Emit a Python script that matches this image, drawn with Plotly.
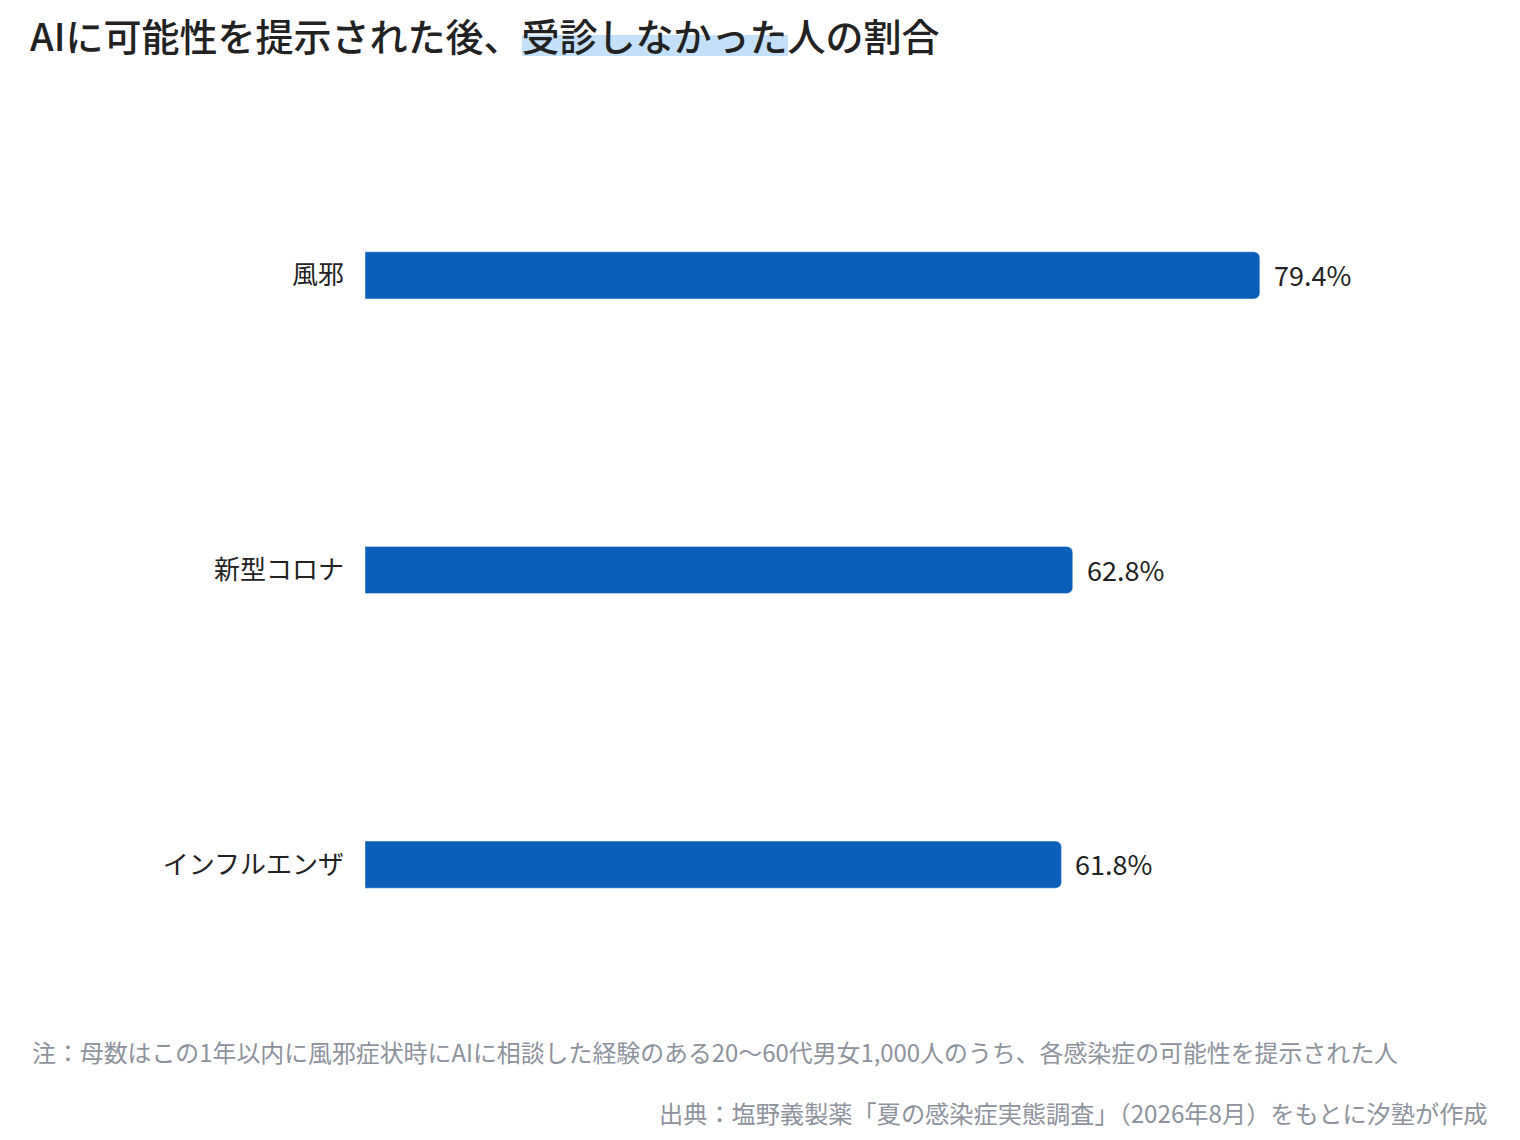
import plotly.graph_objects as go

categories = ['風邪', '新型コロナ', 'インフルエンザ']
values = [79.4, 62.8, 61.8]
value_labels = ['79.4%', '62.8%', '61.8%']

title = 'AIに可能性を提示された後、受診しなかった人の割合'
note = '注：母数はこの1年以内に風邪症状時にAIに相談した経験のある20〜60代男女1,000人のうち、各感染症の可能性を提示された人'
source = '出典：塩野義製薬「夏の感染症実態調査」（2026年8月）をもとに汐塾が作成'

font = 'Noto Sans CJK JP'
OFF = 8  # page body margin
W, H = 1520 - OFF, 1140 - OFF
ml, mr, mt, mb = 365 - OFF, 28, 128 - OFF, 128
pw, ph = W - ml - mr, H - mt - mb


def px(x):
    return (x - OFF - ml) / pw


def py(y):
    return (H - mb - (y - OFF)) / ph


fig = go.Figure(go.Bar(
    x=values, y=categories, orientation='h',
    marker=dict(color='#0b5fb8', cornerradius=6),
    width=0.16, hoverinfo='skip',
))

for c, v, t in zip(categories, values, value_labels):
    fig.add_annotation(x=v, y=c, text=t, showarrow=False, xanchor='left',
                       xshift=12, yshift=1,
                       font=dict(size=27, color='#222222', family=font))

# highlight under 受診しなかった
fig.add_shape(type='rect', xref='paper', yref='paper', layer='below',
              x0=px(522), x1=px(788), y0=py(56), y1=py(35),
              fillcolor='#c4dff8', line_width=0)

fig.add_annotation(xref='paper', yref='paper', x=px(30), y=py(1051),
                   text=note, showarrow=False, xanchor='left', yanchor='middle',
                   font=dict(size=23.9, color='#8e939c', family=font))
fig.add_annotation(xref='paper', yref='paper', x=px(1490), y=py(1112),
                   text=source, showarrow=False, xanchor='right', yanchor='middle',
                   font=dict(size=24.2, color='#8e939c', family=font))

fig.update_layout(
    width=W, height=H,
    margin=dict(l=ml, r=mr, t=mt, b=mb),
    paper_bgcolor='white', plot_bgcolor='white',
    title=dict(text=title, x=(30 - OFF) / W, xanchor='left', y=1 - (38 - OFF) / H,
               yanchor='middle', xref='container', yref='container',
               font=dict(size=38, color='#222222', family=font, weight=500)),
    xaxis=dict(range=[0, 100], visible=False, fixedrange=True),
    yaxis=dict(autorange='reversed', showgrid=False, zeroline=False, ticks='',
               ticklabelstandoff=20, showline=False, fixedrange=True,
               tickfont=dict(size=26, color='#222222', family=font)),
    showlegend=False,
)

fig.write_html('out.html')
